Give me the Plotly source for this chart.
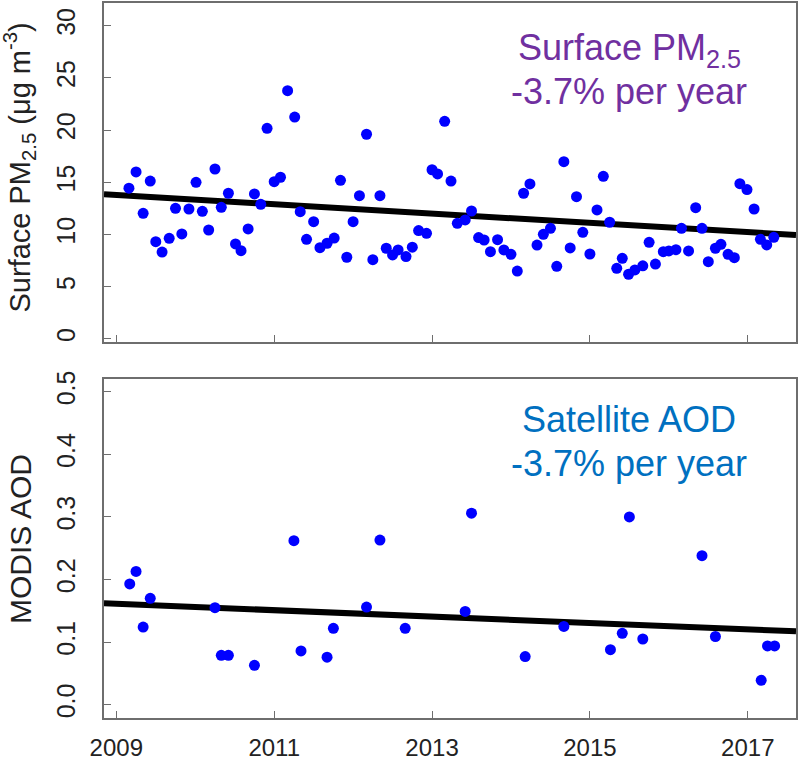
import plotly.graph_objects as go
from plotly.subplots import make_subplots

# Monthly surface PM2.5 (decimal year, ug m-3)
pm_years = [
    2009.16, 2009.25, 2009.34, 2009.43, 2009.50, 2009.58, 2009.67, 2009.75, 2009.83, 2009.92,
    2010.01, 2010.09, 2010.17, 2010.25, 2010.33, 2010.42, 2010.51, 2010.58, 2010.67, 2010.75,
    2010.83, 2010.91, 2011.00, 2011.08, 2011.17, 2011.26, 2011.33, 2011.41, 2011.50, 2011.58,
    2011.67, 2011.76, 2011.84, 2011.92, 2012.00, 2012.08, 2012.17, 2012.25, 2012.34, 2012.42,
    2012.50, 2012.57, 2012.67, 2012.75, 2012.83, 2012.93, 2013.00, 2013.07, 2013.16, 2013.24,
    2013.32, 2013.42, 2013.50, 2013.59, 2013.66, 2013.74, 2013.83, 2013.91, 2014.00, 2014.08,
    2014.16, 2014.24, 2014.33, 2014.41, 2014.50, 2014.58, 2014.67, 2014.75, 2014.83, 2014.91,
    2015.00, 2015.09, 2015.17, 2015.25, 2015.34, 2015.41, 2015.49, 2015.57, 2015.67, 2015.75,
    2015.83, 2015.93, 2016.00, 2016.09, 2016.16, 2016.25, 2016.34, 2016.42, 2016.50, 2016.59,
    2016.66, 2016.75, 2016.83, 2016.90, 2016.99, 2017.08, 2017.16, 2017.24, 2017.33,
]
pm_values = [
    14.43, 15.99, 12.03, 15.12, 9.31, 8.32, 9.63, 12.51, 10.05, 12.44,
    15.00, 12.22, 10.43, 16.27, 12.60, 13.95, 9.09, 8.45, 10.53, 13.88,
    12.89, 20.17, 15.06, 15.48, 23.77, 21.25, 12.18, 9.54, 11.23, 8.74,
    9.16, 9.66, 15.19, 7.82, 11.23, 13.72, 19.60, 7.59, 13.72, 8.68,
    8.04, 8.52, 7.88, 8.78, 10.37, 10.11, 16.20, 15.80, 20.84, 15.12,
    11.07, 11.39, 12.25, 9.70, 9.47, 8.35, 9.50, 8.52, 8.10, 6.50,
    13.95, 14.84, 8.99, 10.02, 10.59, 6.95, 16.97, 8.71, 13.62, 10.21,
    8.13, 12.35, 15.57, 11.17, 6.76, 7.72, 6.19, 6.60, 7.00, 9.25,
    7.17, 8.35, 8.42, 8.54, 10.59, 8.42, 12.57, 10.59, 7.40, 8.68,
    9.06, 8.10, 7.78, 14.87, 14.30, 12.44, 9.54, 9.00, 9.73,
]

# MODIS AOD (decimal year, unitless)
aod_years = [
    2009.17, 2009.25, 2009.34, 2009.43, 2010.25, 2010.33, 2010.42, 2010.75, 2011.25, 2011.34,
    2011.67, 2011.75, 2012.17, 2012.34, 2012.66, 2013.42, 2013.50, 2014.18, 2014.67, 2015.26,
    2015.41, 2015.50, 2015.67, 2016.42, 2016.59, 2017.17, 2017.25, 2017.34,
]
aod_values = [
    0.193, 0.213, 0.124, 0.170, 0.155, 0.079, 0.079, 0.063, 0.262, 0.086,
    0.076, 0.122, 0.156, 0.263, 0.122, 0.149, 0.306, 0.077, 0.125, 0.088,
    0.114, 0.300, 0.105, 0.238, 0.109, 0.039, 0.094, 0.094,
]

# Linear trends: value at 2009.0 and slope per year
pm_trend_2009, pm_trend_slope = 13.78, -0.444
aod_trend_2009, aod_trend_slope = 0.1612, -0.0051

x_range = [2008.844, 2017.611]
x_ticks = [2009, 2011, 2013, 2015, 2017]
pm_ticks = [0, 5, 10, 15, 20, 25, 30]
aod_ticks = [0.0, 0.1, 0.2, 0.3, 0.4, 0.5]

W, H = 799, 762
ML, MR, MT, MB = 104, 3, 3, 44
PW, PH = W - ML - MR, H - MT - MB


def px_x(px):
    return (px - ML) / PW


def px_y(py):
    return (H - MB - py) / PH


top_bottom = px_y(341.5)
bot_top = px_y(379.3)

fig = make_subplots(rows=2, cols=1, shared_xaxes=False, vertical_spacing=0)


def trend(x0, slope, xs):
    return [x0 + slope * (x - 2009) for x in xs]


FONT = "Liberation Sans, Arial, sans-serif"
BLUE = "#0000FF"

fig.add_trace(go.Scatter(x=x_range, y=trend(pm_trend_2009, pm_trend_slope, x_range),
                         mode="lines", line=dict(color="black", width=6),
                         showlegend=False, hoverinfo="skip"), row=1, col=1)
fig.add_trace(go.Scatter(x=pm_years, y=pm_values, mode="markers",
                         marker=dict(color=BLUE, size=11, line=dict(width=0)),
                         showlegend=False), row=1, col=1)
fig.add_trace(go.Scatter(x=x_range, y=trend(aod_trend_2009, aod_trend_slope, x_range),
                         mode="lines", line=dict(color="black", width=6),
                         showlegend=False, hoverinfo="skip"), row=2, col=1)
fig.add_trace(go.Scatter(x=aod_years, y=aod_values, mode="markers",
                         marker=dict(color=BLUE, size=11, line=dict(width=0)),
                         showlegend=False), row=2, col=1)

axis_common = dict(showline=True, mirror=True, linecolor="#6e6e6e", linewidth=1.5,
                   ticks="inside", ticklen=7, tickwidth=1.3, tickcolor="#6e6e6e",
                   showgrid=False, zeroline=False, automargin=False)

fig.update_xaxes(range=x_range, tickvals=x_ticks, ticktext=[str(t) for t in x_ticks],
                 tickfont=dict(family=FONT, size=24, color="#222222"), **axis_common)
fig.update_xaxes(showticklabels=False, row=1, col=1)
fig.update_xaxes(ticklabelstandoff=7, row=2, col=1)

fig.update_yaxes(tickangle=-90, ticklabelstandoff=17,
                 tickfont=dict(family=FONT, size=25, color="#222222"), **axis_common)
fig.update_yaxes(range=[-0.25, 32.17], tickvals=pm_ticks,
                 ticktext=[str(t) for t in pm_ticks], row=1, col=1)
fig.update_yaxes(range=[-0.0212, 0.5198], tickvals=aod_ticks,
                 ticktext=[f"{t:.1f}" for t in aod_ticks], row=2, col=1)

fig.update_layout(
    yaxis=dict(domain=[top_bottom, 1.0]),
    yaxis2=dict(domain=[0.0, bot_top]),
)

annotations = [
    dict(text="Surface PM<sub>2.5</sub>", x=px_x(629), y=px_y(50),
         font=dict(size=36, color="#7030A0")),
    dict(text="-3.7% per year", x=px_x(629), y=px_y(92),
         font=dict(size=36, color="#7030A0")),
    dict(text="Satellite AOD", x=px_x(629), y=px_y(419),
         font=dict(size=36, color="#0070C0")),
    dict(text="-3.7% per year", x=px_x(629), y=px_y(463),
         font=dict(size=36, color="#0070C0")),
    dict(text="Surface PM<sub>2.5</sub> (μg m<sup>-3</sup>)", x=px_x(20), y=px_y(167.5),
         textangle=-90, font=dict(size=29, color="#222222")),
    dict(text="MODIS AOD", x=px_x(20), y=px_y(539),
         textangle=-90, font=dict(size=30, color="#222222")),
]
for a in annotations:
    a.update(xref="paper", yref="paper", xanchor="center", yanchor="middle",
             showarrow=False)
    a["font"]["family"] = FONT

fig.update_layout(
    width=W, height=H,
    margin=dict(l=ML, r=MR, t=MT, b=MB, autoexpand=False),
    paper_bgcolor="white", plot_bgcolor="white",
    annotations=annotations,
    showlegend=False,
)

fig.write_html("out.html")
